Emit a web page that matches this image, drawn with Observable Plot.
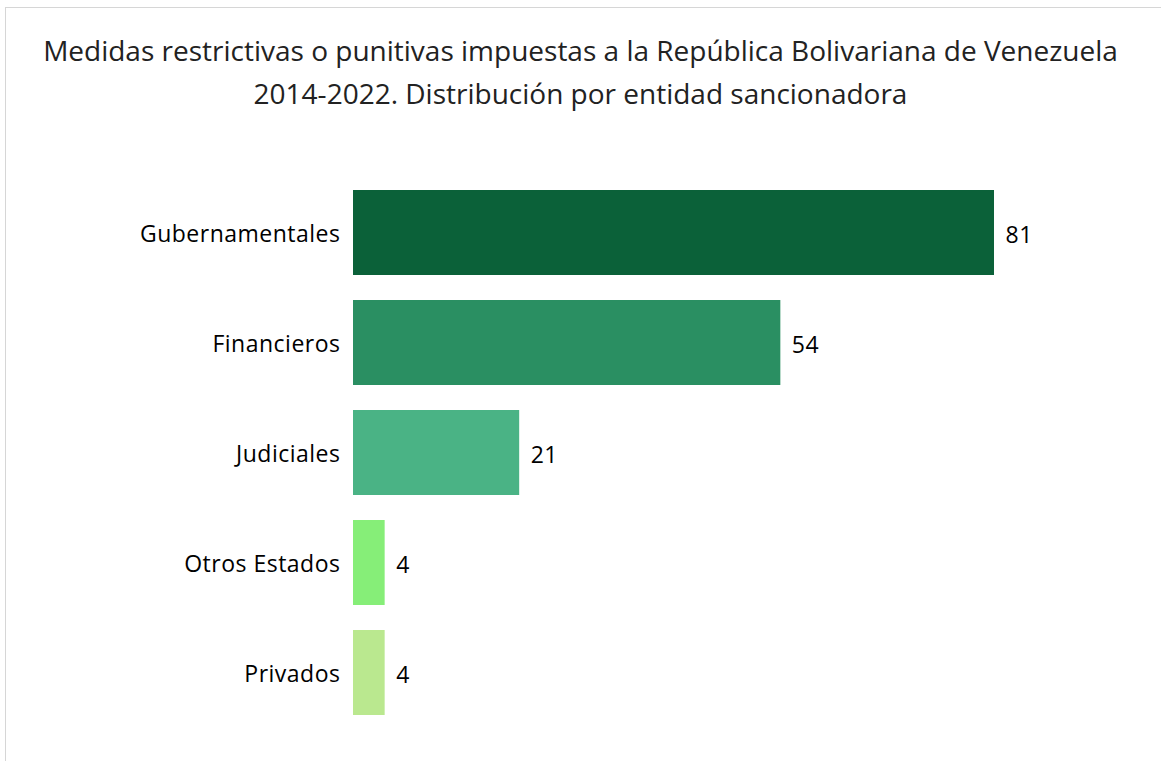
<!DOCTYPE html>
<html><head><meta charset="utf-8">
<script src="https://cdn.jsdelivr.net/npm/d3@7"></script>
<script src="https://cdn.jsdelivr.net/npm/@observablehq/plot@0.6"></script>
<style>
html,body{margin:0;padding:0;background:#fff;}
body{width:1161px;height:761px;overflow:hidden;position:relative;font-family:"Open Sans","Noto Sans",sans-serif;}
#frame{position:absolute;left:5px;top:7px;width:1200px;height:800px;border-top:1px solid #d6d6d6;border-left:1px solid #d6d6d6;}
#title{position:absolute;left:0;top:29px;width:1161px;text-align:center;font-size:28px;line-height:43px;color:#222;}
#chart{position:absolute;left:0;top:130px;}
#chart svg text{letter-spacing:0.5px;}
</style></head>
<body>
<div id="frame"></div>
<div id="title">Medidas restrictivas o punitivas impuestas a la República Bolivariana de Venezuela<br>2014-2022. Distribución por entidad sancionadora</div>
<div id="chart"></div>
<script>
const categories = ["Gubernamentales","Financieros","Judiciales","Otros Estados","Privados"];
const values = [81,54,21,4,4];
const colors = ["#0b6139","#2a8f62","#4ab385","#86ee78","#bae88f"];
const data = categories.map((c,i)=>({cat:c,value:values[i],color:colors[i]}));
const chart = Plot.plot({
  width:1161, height:631,
  marginLeft:353, marginRight:167, marginTop:33.5, marginBottom:19.5,
  style:{fontFamily:"'Open Sans','Noto Sans',sans-serif", fontSize:"23px", color:"#000", background:"transparent"},
  x:{domain:[0,81], axis:null},
  y:{domain:categories, padding:0.2308, label:null, tickSize:0, tickPadding:13},
  marks:[
    Plot.barX(data,{y:"cat",x:"value",fill:"color"}),
    Plot.axisY({tickSize:0, tickPadding:13, fontSize:23, dy:2}),
    Plot.text(data,{y:"cat",x:"value",text:d=>String(d.value),textAnchor:"start",dx:11,dy:3,fontSize:23,fill:"#000"})
  ]
});
document.getElementById("chart").appendChild(chart);
</script>
</body></html>
